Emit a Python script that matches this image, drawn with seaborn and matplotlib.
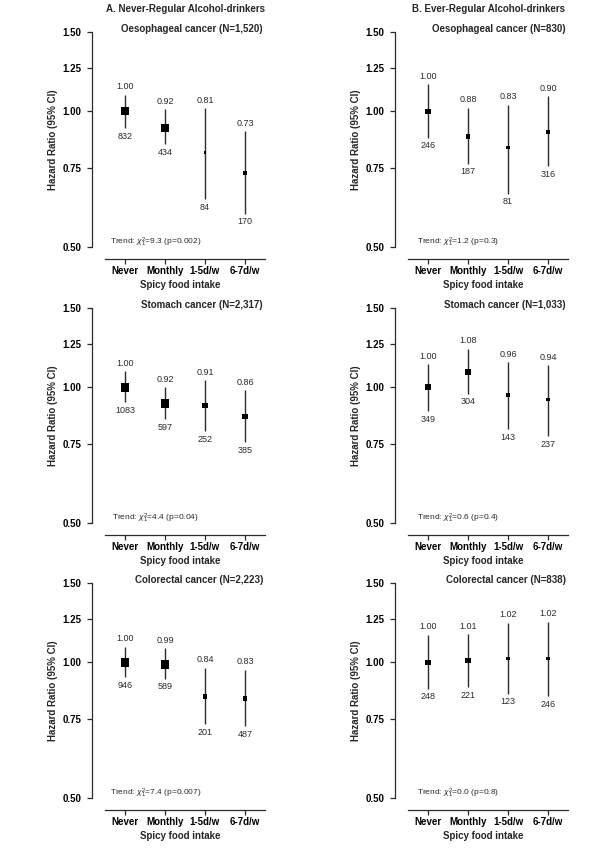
import numpy as np
import matplotlib
matplotlib.use('Agg')
import matplotlib.pyplot as plt
import seaborn as sns

# categories on the x axis
cats = ['Never', 'Monthly', '1-5d/w', '6-7d/w']
groups = ['A. Never-Regular Alcohol-drinkers', 'B. Ever-Regular Alcohol-drinkers']
cancers = ['Oesophageal cancer', 'Stomach cancer', 'Colorectal cancer']
n_total = [['1,520', '830'], ['2,317', '1,033'], ['2,223', '838']]

# never-regular drinkers: hazard ratios, 95% CI, case counts (rows = cancers)
hr_never = [[1.00, 0.92, 0.81, 0.73], [1.00, 0.92, 0.91, 0.86], [1.00, 0.99, 0.84, 0.83]]
lo_never = [[0.918, 0.845, 0.638, 0.593], [0.926, 0.850, 0.799, 0.755], [0.927, 0.919, 0.728, 0.722]]
hi_never = [[1.089, 1.010, 1.017, 0.903], [1.085, 1.000, 1.038, 0.986], [1.083, 1.076, 0.972, 0.963]]
cases_never = [[832, 434, 84, 170], [1083, 597, 252, 385], [946, 589, 201, 487]]

# ever-regular drinkers
hr_ever = [[1.00, 0.88, 0.83, 0.90], [1.00, 1.08, 0.96, 0.94], [1.00, 1.01, 1.02, 1.02]]
lo_ever = [[0.873, 0.766, 0.657, 0.755], [0.885, 0.967, 0.807, 0.779], [0.873, 0.881, 0.851, 0.840]]
hi_ever = [[1.150, 1.019, 1.035, 1.080], [1.126, 1.218, 1.138, 1.119], [1.151, 1.155, 1.225, 1.230]]
cases_ever = [[246, 187, 81, 316], [349, 304, 143, 237], [248, 221, 123, 246]]

# trend tests
trend_chi = [['9.3', '1.2'], ['4.4', '0.6'], ['7.4', '0.0']]
trend_p = [['0.002', '0.3'], ['0.04', '0.4'], ['0.007', '0.8']]

sns.set_style('white')
plt.rcParams['font.family'] = ['Liberation Sans', 'DejaVu Sans']
plt.rcParams['mathtext.fontset'] = 'custom'
plt.rcParams['mathtext.rm'] = 'Liberation Sans'
plt.rcParams['mathtext.it'] = 'Liberation Sans:italic'

ink = '#2b2b2b'
fig = plt.figure(figsize=(6, 8.5), dpi=100)

lefts = [92 / 600, 395 / 600]
bottoms = [1 - 247 / 850, 1 - 523 / 850, 1 - 798 / 850]
w, h = 177 / 600, 215 / 850
x = np.arange(len(cats))

for col in range(2):
    hr_all = [hr_never, hr_ever][col]
    lo_all = [lo_never, lo_ever][col]
    hi_all = [hi_never, hi_ever][col]
    n_all = [cases_never, cases_ever][col]
    for row in range(3):
        ax = fig.add_axes([lefts[col], bottoms[row], w, h])
        hr = np.array(hr_all[row])
        lo = np.array(lo_all[row])
        hi = np.array(hi_all[row])

        # spines first: moving a spine resets the tick objects
        sns.despine(ax=ax)
        ax.spines['bottom'].set_position(('outward', 8.6))
        for s in ['left', 'bottom']:
            ax.spines[s].set_color(ink)
            ax.spines[s].set_linewidth(0.9)

        # square side proportional to inverse of the CI width (log scale)
        side = 1.0 / np.log(hi / lo)
        ax.vlines(x, lo, hi, color=ink, lw=1.0, zorder=1)
        sns.scatterplot(x=x, y=hr, marker='s', color='black', s=side ** 2,
                        linewidth=0, ax=ax, zorder=2, legend=False)

        for i in range(len(cats)):
            ax.annotate(f'{hr[i]:.2f}', (x[i], hi[i]), xytext=(0, 2.5),
                        textcoords='offset points', ha='center', va='bottom',
                        fontsize=6.5, color=ink)
            ax.annotate(str(n_all[row][i]), (x[i], lo[i]), xytext=(0, -2.5),
                        textcoords='offset points', ha='center', va='top',
                        fontsize=6.5, color=ink)

        ax.set_yscale('log')
        ax.set_ylim(0.5, 1.5)
        ax.set_xlim(-0.825, 3.6)
        ax.spines['bottom'].set_bounds(-0.5, 3.5)
        ax.set_yticks([0.5, 0.75, 1.0, 1.25, 1.5])
        ax.set_yticklabels(['0.50', '0.75', '1.00', '1.25', '1.50'],
                           fontsize=7, fontweight='bold')
        ax.yaxis.set_minor_locator(matplotlib.ticker.NullLocator())
        ax.set_xticks(x)
        ax.set_xticklabels(cats, fontsize=7, fontweight='bold')
        ax.tick_params(axis='both', which='major', length=3.5, width=0.9,
                       color=ink, labelcolor='black', bottom=True, left=True)
        ax.tick_params(axis='y', pad=4)
        ax.tick_params(axis='x', pad=1.5)

        ax.set_ylabel('Hazard Ratio (95% CI)', fontsize=7, fontweight='bold',
                      labelpad=3)
        ax.set_xlabel('Spicy food intake', fontsize=7, fontweight='bold',
                      labelpad=3)

        ax.text(3.45, 1.014, f'{cancers[row]} (N={n_total[row][col]})',
                transform=ax.get_xaxis_transform(), ha='right', va='center',
                fontsize=7, fontweight='bold')
        ax.text(0.76, 0.02,
                'Trend: $\\chi^2_1$=' + trend_chi[row][col] + ' (p=' + trend_p[row][col] + ')',
                transform=ax.get_xaxis_transform(), ha='center', va='center',
                fontsize=6, color=ink)
        if row == 0:
            ax.text(1.5, 1.107, groups[col], transform=ax.get_xaxis_transform(),
                    ha='center', va='center', fontsize=7, fontweight='bold')

fig.savefig('out.png', dpi=100, facecolor='white')
